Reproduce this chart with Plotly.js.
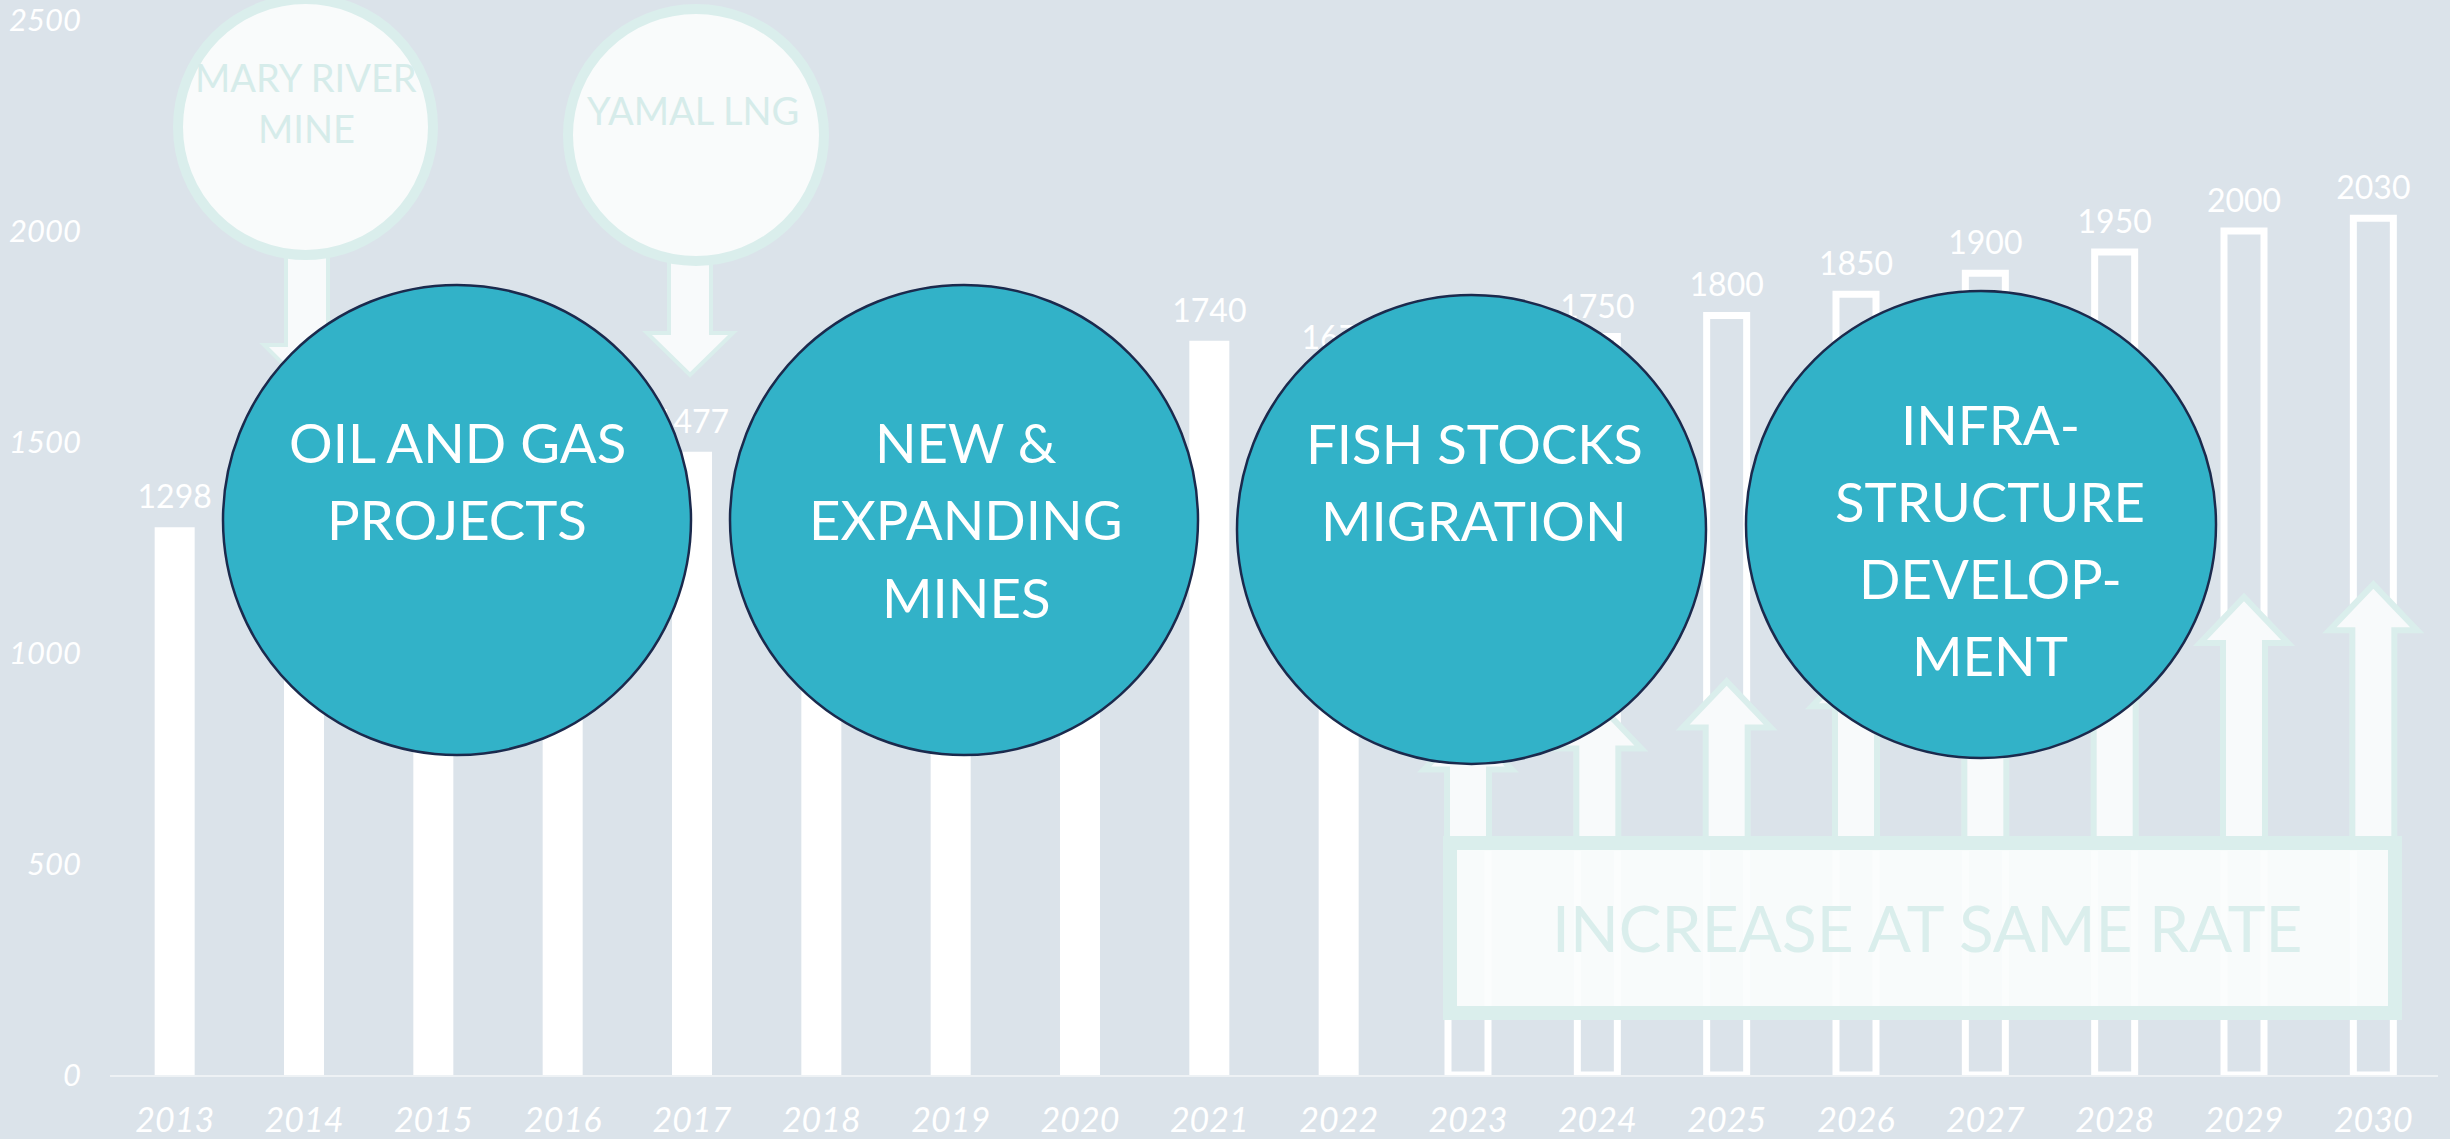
<!DOCTYPE html>
<html><head><meta charset="utf-8">
<script src="https://cdn.plot.ly/plotly-3.0.1.min.js"></script>
<style>html,body{margin:0;padding:0;background:#DBE3EA;}#chart{width:2450px;height:1139px;}</style>
</head><body><div id="chart"></div>
<script>
// ---------------- DATA ----------------
const years = ['2013','2014','2015','2016','2017','2018','2019','2020','2021','2022','2023','2024','2025','2026','2027','2028','2029','2030'];
const histYears = ['2013','2014','2015','2016','2017','2018','2019','2020','2021','2022'];
const histValues = [1298, 1340, 1380, 1420, 1477, 1550, 1628, 1610, 1740, 1676];
const projYears = ['2023','2024','2025','2026','2027','2028','2029','2030'];
const projValues = [1700, 1750, 1800, 1850, 1900, 1950, 2000, 2030];
const yTickVals = [0, 500, 1000, 1500, 2000, 2500];
const themeLabels = [
  ['OIL AND GAS', 'PROJECTS'],
  ['NEW &', 'EXPANDING', 'MINES'],
  ['FISH STOCKS', 'MIGRATION'],
  ['INFRA-', 'STRUCTURE', 'DEVELOP-', 'MENT']
];
const calloutLabels = [['MARY RIVER', 'MINE'], ['YAMAL LNG']];
const calloutYears = ['2014', '2017'];
const bandLabel = 'INCREASE AT SAME RATE';

// ---------------- LAYOUT CONSTANTS ----------------
const W = 2450, H = 1139;
const M = {l: 110, r: 12, t: 20, b: 64};
const plotW = W - M.l - M.r, plotH = H - M.t - M.b;
const yMax = 2500;
const pxPerY = plotH / yMax;
const nCat = years.length;
const px = v => (v - M.l) / plotW;          // pixel x -> paper
const py = v => (H - M.b - v) / plotH;      // pixel y -> paper
const catX = y => (years.indexOf(y) + 0.5) / nCat;  // category centre in paper units
const yPix = v => v / pxPerY;               // pixel length -> data units

const BG = '#DBE3EA';
const TEAL = '#32B2C8';
const NAVY = '#1B2A4D';
const PALE = '#DAEEEC';
const PALEFILL = '#F8FAFB';

const shapes = [];
const annotations = [];

// up arrows inside projected bars (tied to bar values)
const ARROW_GAP = yPix(366), HEAD_H = yPix(46), SHAFT_BOTTOM = yPix(H - M.b - 848);
const hw = 44 / plotW, sw = 21 / plotW;
projYears.forEach((yr, j) => {
  const cx = catX(yr);
  const tip = projValues[j] - ARROW_GAP;
  const base = tip - HEAD_H;
  shapes.push({
    type: 'path', xref: 'paper', yref: 'y', layer: 'above',
    path: `M ${cx-sw},${SHAFT_BOTTOM} L ${cx-sw},${base} L ${cx-hw},${base} L ${cx},${tip} L ${cx+hw},${base} L ${cx+sw},${base} L ${cx+sw},${SHAFT_BOTTOM} Z`,
    fillcolor: PALEFILL, line: {color: PALE, width: 6}
  });
});

// box "increase at same rate"
shapes.push({type: 'rect', xref: 'paper', yref: 'paper', layer: 'above',
  x0: px(1450), x1: px(2395), y0: py(1013), y1: py(843),
  fillcolor: 'rgba(251,253,253,0.9)', line: {color: PALE, width: 14}});
annotations.push({xref: 'paper', yref: 'paper', x: px(1927), y: py(927), xanchor: 'center', yanchor: 'middle',
  text: bandLabel, showarrow: false, font: {family: 'Lato', size: 64, color: PALE}});

// callout arrows + circles
const callGeom = [
  {circ: [178, 433, -1, 255], top: 245, base: 345, tip: 388, text: [77, 128], tx: 306},
  {circ: [568, 824, 9, 261], top: 255, base: 333, tip: 375, text: [110], tx: 693}
];
const chw = 43 / plotW, csw = 21 / plotW;
calloutYears.forEach((yr, k) => {
  const g = callGeom[k];
  const cx = catX(yr) + (k === 0 ? 3 : -2) / plotW;
  shapes.push({type: 'path', xref: 'paper', yref: 'paper', layer: 'above',
    path: `M ${cx-csw},${py(g.top)} L ${cx-csw},${py(g.base)} L ${cx-chw},${py(g.base)} L ${cx},${py(g.tip)} L ${cx+chw},${py(g.base)} L ${cx+csw},${py(g.base)} L ${cx+csw},${py(g.top)} Z`,
    fillcolor: PALEFILL, line: {color: PALE, width: 4}});
  shapes.push({type: 'circle', xref: 'paper', yref: 'paper', layer: 'above',
    x0: px(g.circ[0]), x1: px(g.circ[1]), y0: py(g.circ[3]), y1: py(g.circ[2]),
    fillcolor: '#F9FBFB', line: {color: PALE, width: 10}});
  calloutLabels[k].forEach((t, n) => {
    annotations.push({xref: 'paper', yref: 'paper', x: px(g.tx), y: py(g.text[n]), xanchor: 'center', yanchor: 'middle',
      text: t, showarrow: false, font: {family: 'Lato', size: 38, color: '#D6ECEA'}});
  });
});

// teal theme circles
const themeGeom = [
  {circ: [223, 691, 285, 755], tx: 457, ty: [442, 519]},
  {circ: [730, 1198, 285, 755], tx: 966, ty: [442, 519, 597]},
  {circ: [1237, 1706, 295, 764], tx: 1474, ty: [443, 520]},
  {circ: [1746, 2216, 291, 758], tx: 1990, ty: [424, 501, 578, 655]}
];
themeLabels.forEach((lines, k) => {
  const g = themeGeom[k];
  shapes.push({type: 'circle', xref: 'paper', yref: 'paper', layer: 'above',
    x0: px(g.circ[0]), x1: px(g.circ[1]), y0: py(g.circ[3]), y1: py(g.circ[2]),
    fillcolor: TEAL, line: {color: NAVY, width: 2.5}});
  lines.forEach((t, n) => {
    annotations.push({xref: 'paper', yref: 'paper', x: px(g.tx), y: py(g.ty[n]), xanchor: 'center', yanchor: 'middle',
      text: t, showarrow: false, font: {family: 'Lato', size: 54.5, color: '#FFFFFF'}});
  });
});

// ---------------- TRACES ----------------
const labelYears = histYears.concat(projYears);
const labelValues = histValues.concat(projValues);
const traces = [
  {type: 'bar', x: histYears, y: histValues, width: 40 / (plotW / nCat),
   marker: {color: '#FFFFFF', line: {width: 0}}, hoverinfo: 'skip'},
  {type: 'bar', x: projYears, y: projValues, width: 40 / (plotW / nCat),
   marker: {color: 'rgba(0,0,0,0)', line: {color: '#FFFFFF', width: 7}}, hoverinfo: 'skip'},
  {type: 'scatter', mode: 'text', x: labelYears, y: labelValues.map(v => v + yPix(27)),
   text: labelValues.map(String), textposition: 'middle center', cliponaxis: false,
   textfont: {family: 'Lato', size: 32, color: '#FFFFFF'}, hoverinfo: 'skip'}
];

const layout = {
  width: W, height: H, margin: M,
  paper_bgcolor: BG, plot_bgcolor: BG,
  showlegend: false, barmode: 'overlay',
  xaxis: {type: 'category', categoryorder: 'array', categoryarray: years, range: [-0.5, nCat - 0.5],
    showgrid: false, zeroline: false, showline: true, linecolor: '#EEF2F5', linewidth: 2,
    ticks: '', ticklabelstandoff: 14, ticklabeloverflow: 'allow',
    tickfont: {family: 'Lato', size: 34, color: '#FFFFFF', style: 'italic'}},
  yaxis: {range: [0, yMax], tickvals: yTickVals, ticktext: yTickVals.map(String),
    showgrid: false, zeroline: false, showline: false, ticks: '', ticklabelstandoff: 28,
    ticklabeloverflow: 'allow',
    tickfont: {family: 'Lato', size: 31, color: '#FFFFFF', style: 'italic'}},
  shapes: shapes, annotations: annotations
};
Plotly.newPlot('chart', traces, layout, {displayModeBar: false, staticPlot: true});
</script></body></html>
